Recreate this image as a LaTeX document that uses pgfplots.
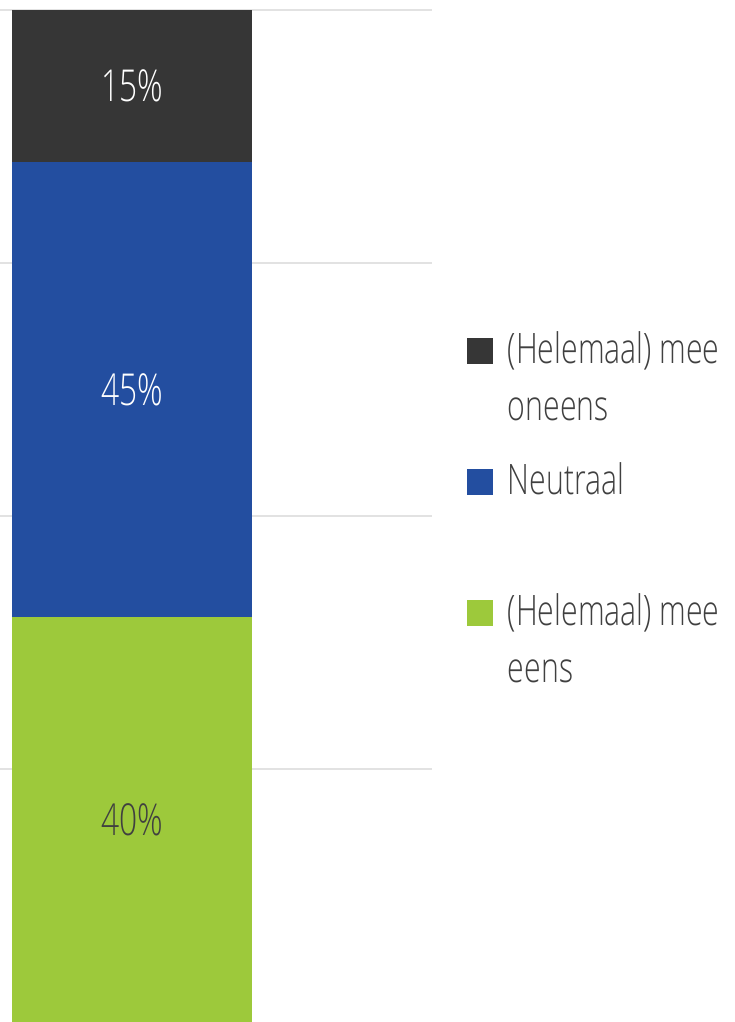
\documentclass[border=0pt]{standalone}
\usepackage{pgfplots}
\pgfplotsset{compat=1.18}
\usepackage{fontspec}
\setmainfont{Open Sans Light}[FakeStretch=0.72]
\definecolor{darkseg}{HTML}{363636}
\definecolor{blueseg}{HTML}{234EA0}
\definecolor{greenseg}{HTML}{9DC93B}
\definecolor{gridgray}{HTML}{E2E2E2}
\definecolor{txtgray}{HTML}{404040}
\newcommand{\entry}[1]{\parbox[t]{130pt}{\raggedright\strut #1}}
\begin{document}
\begin{tikzpicture}
\begin{axis}[
  scale only axis, width=216pt, height=506pt,
  at={(0,0)}, anchor=south west,
  xmin=0, xmax=432, ymin=0, ymax=100,
  enlargelimits=false, clip=false,
  ybar stacked, bar width=240,
  xtick=\empty, ytick={25,50,75,100}, yticklabels={},
  ymajorgrids, grid style={line width=1pt, gridgray},
  axis line style={draw=none}, major tick length=0pt,
  /pgf/number format/assume math mode=true,
  visualization depends on=rawy\as\rawy,
  nodes near coords={\pgfmathprintnumber{\rawy}\%},
  every node near coord/.append style={anchor=center,
    font=\fontsize{22}{26}\selectfont},
  every axis plot post/.append style={
    legend image code/.code={\path[##1,draw=none] (0pt,0pt) rectangle (13pt,13pt);}},
  reverse legend,
  legend style={at={(1.081,0.6936)}, anchor=north west, draw=none, fill=none,
    inner sep=0pt, outer sep=0pt, row sep=40pt, column sep=5.5pt,
    font=\fontsize{21}{28.5}\selectfont, text=txtgray,
    cells={anchor=base west, inner sep=0pt}},
]
\addplot[fill=greenseg, draw=none, every node near coord/.append style={text=txtgray}]
  coordinates {(132,40)};
\addlegendentry{\entry{(Helemaal) mee\\eens}}
\addplot[fill=blueseg, draw=none, every node near coord/.append style={text=white}]
  coordinates {(132,45)};
\addlegendentry{\entry{Neutraal}}
\addplot[fill=darkseg, draw=none, every node near coord/.append style={text=white}]
  coordinates {(132,15)};
\addlegendentry{\entry{(Helemaal) mee\\oneens}}
\end{axis}
\pgfresetboundingbox
\useasboundingbox (0,0) rectangle (367pt,511pt);
\end{tikzpicture}
\end{document}
